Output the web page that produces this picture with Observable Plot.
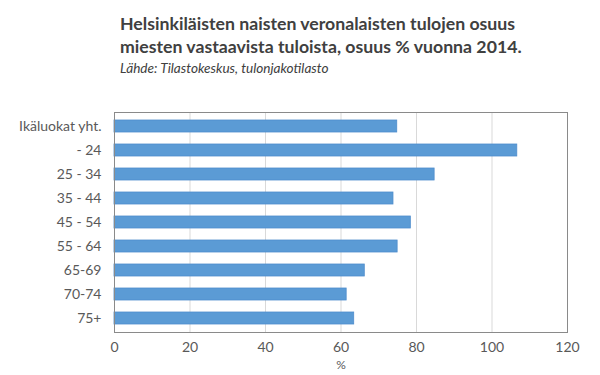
<!DOCTYPE html>
<html>
<head>
<meta charset="utf-8">
<script src="https://cdn.jsdelivr.net/npm/d3@7"></script>
<script src="https://cdn.jsdelivr.net/npm/@observablehq/plot@0.6"></script>
<style>
  body { margin: 0; background: #ffffff; }
  #wrap { width: 600px; height: 375px; overflow: hidden; position: relative; background: #fff; }
  #head { position: relative; height: 90px; }
  #title { position: absolute; left: 120px; top: 12px; margin: 0;
           font: bold 17.7px Lato, sans-serif; line-height: 23px; color: #404040; white-space: nowrap; }
  #sub { position: absolute; left: 120px; top: 60px; margin: 0;
         font: italic 13.6px Lato, sans-serif; line-height: 16px; color: #404040; white-space: nowrap; }
  #chart svg { display: block; }
</style>
</head>
<body>
<div id="wrap">
  <div id="head">
    <div id="title">Helsinkiläisten naisten veronalaisten tulojen osuus<br>miesten vastaavista tuloista, osuus % vuonna 2014.</div>
    <div id="sub">Lähde: Tilastokeskus, tulonjakotilasto</div>
  </div>
  <div id="chart"></div>
</div>
<script>
const categories = ["Ikäluokat yht.", "- 24", "25 - 34", "35 - 44", "45 - 54", "55 - 64", "65-69", "70-74", "75+"];
const values = [74.9, 106.7, 84.8, 73.9, 78.5, 75.0, 66.3, 61.5, 63.5];
const xTicks = [0, 20, 40, 60, 80, 100, 120];
const xLabel = "%";

const data = categories.map((c, i) => ({category: c, value: values[i]}));

const chart = Plot.plot({
  width: 600,
  height: 285,
  marginTop: 22,
  marginBottom: 43,
  marginLeft: 114,
  marginRight: 33,
  style: {fontFamily: "Lato, sans-serif", fontSize: "14px", color: "#595959", background: "#ffffff"},
  x: {domain: [0, 120], ticks: xTicks},
  y: {domain: categories, paddingInner: 0.5, paddingOuter: 0.25},
  marks: [
    Plot.gridX(xTicks.slice(1, -1), {stroke: "#d9d9d9", strokeOpacity: 1, strokeWidth: 1}),
    Plot.barX(data, {x: "value", y: "category", fill: "#5b9bd5", stroke: "#4f8dcc", strokeWidth: 0.8}),
    Plot.frame({stroke: "#8a8a8a", strokeWidth: 1}),
    Plot.axisX({ticks: xTicks, tickSize: 0, tickPadding: 10, label: null}),
    Plot.axisY({tickSize: 0, tickPadding: 13, label: null}),
    Plot.text([xLabel], {text: d => d, frameAnchor: "bottom", dy: 36, fontSize: 12, fill: "#595959"})
  ]
});
document.getElementById("chart").appendChild(chart);
</script>
</body>
</html>
